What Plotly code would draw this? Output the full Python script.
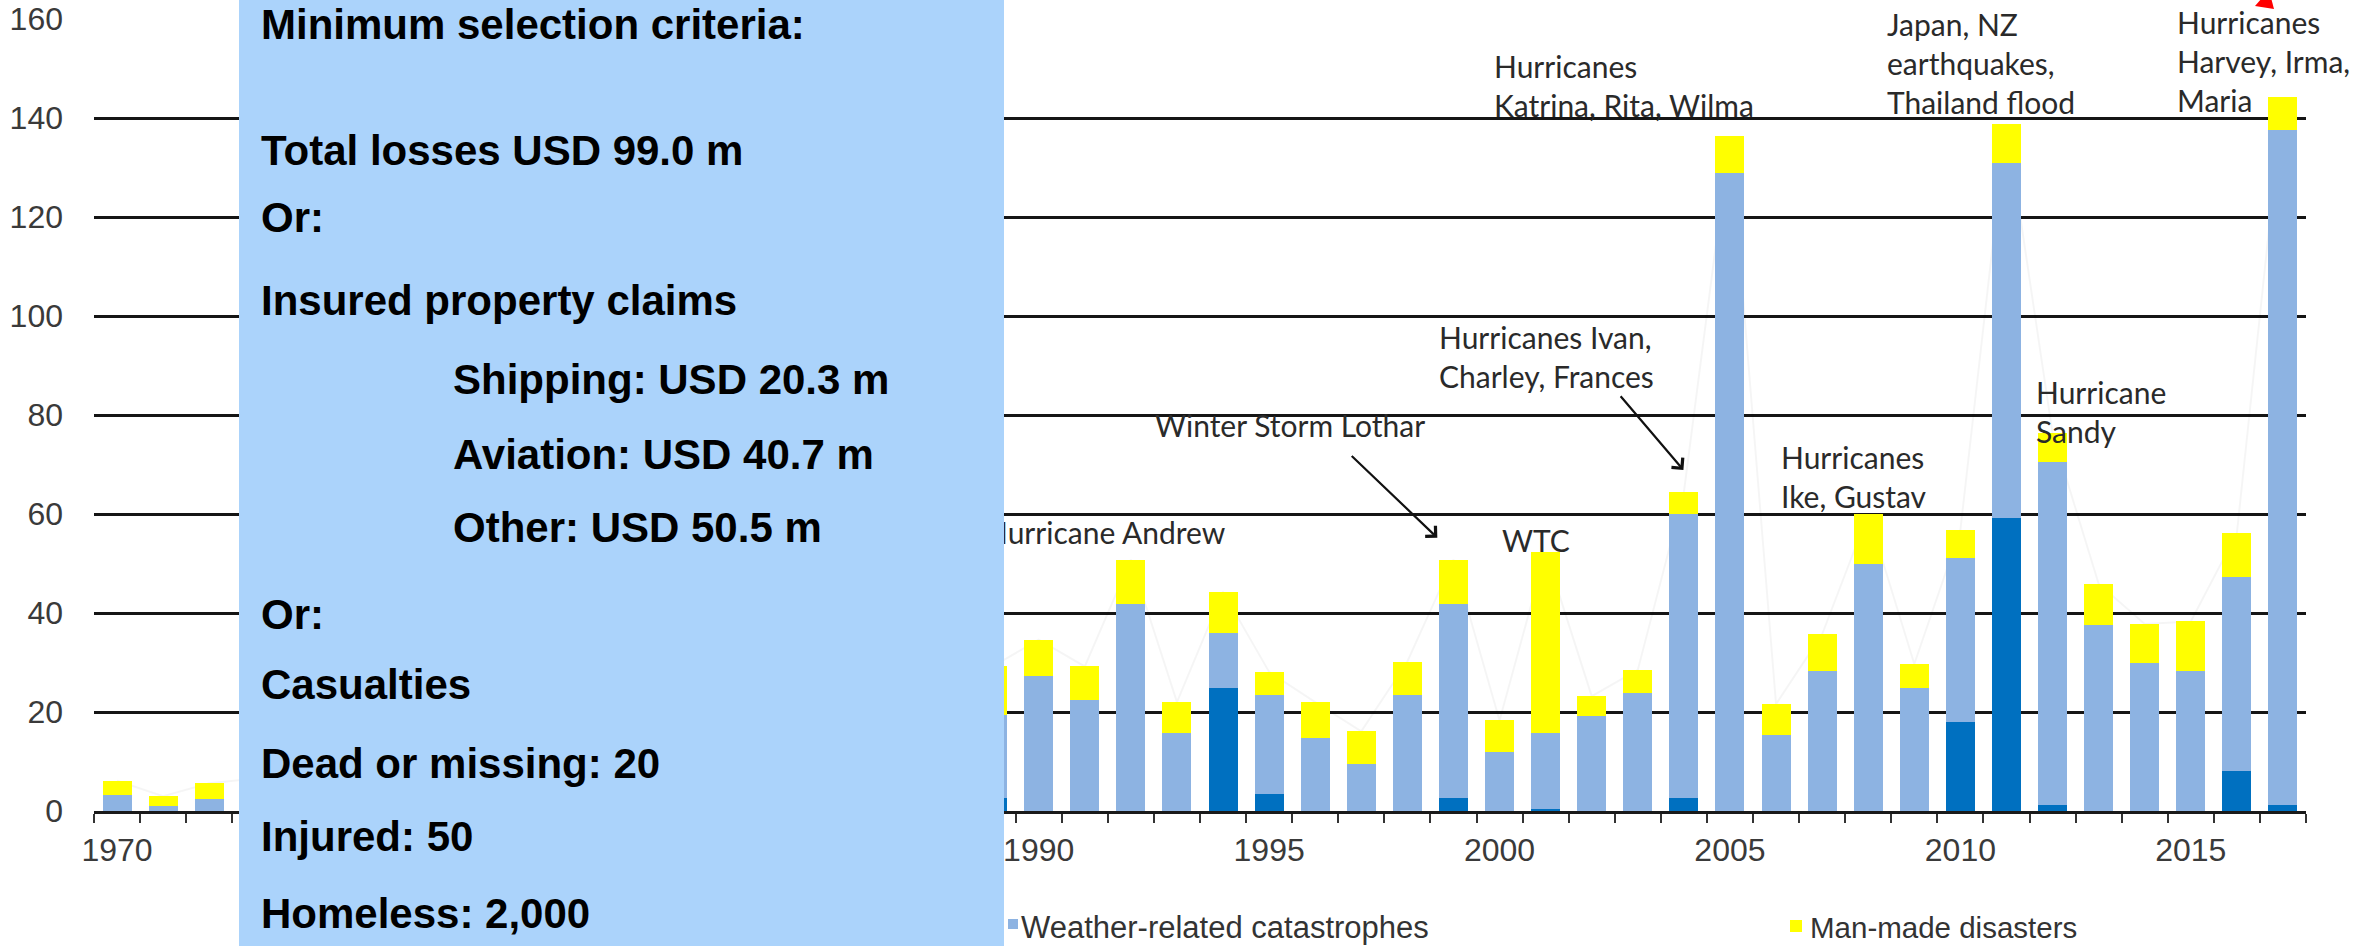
import plotly.graph_objects as go

# Insured catastrophe losses by year, USD bn
years = list(range(1970, 2018))
earthquake = [0.0, 0.0, 0.0, 0.0, 0.0, 0.0, 0.5, 0.2, 0.3, 0.0,
              0.8, 0.0, 0.0, 0.5, 0.0, 0.8, 0.2, 0.5, 0.3, 2.7,
              0.0, 0.0, 0.0, 0.0, 24.9, 3.4, 0.0, 0.0, 0.0, 2.7,
              0.0, 0.5, 0.0, 0.0, 2.7, 0.0, 0.0, 0.0, 0.0, 0.0,
              18.0, 59.1, 1.2, 0.0, 0.0, 0.0, 8.1, 1.2]
weather = [3.2, 1.1, 2.5, 4.0, 5.5, 4.0, 5.5, 3.0, 4.5, 7.0,
           3.5, 3.5, 6.0, 9.5, 6.0, 7.5, 4.5, 14.0, 6.5, 16.6,
           27.3, 22.4, 41.9, 15.7, 11.0, 20.0, 14.8, 9.4, 23.4, 39.2,
           12.0, 15.3, 19.1, 23.9, 57.2, 128.9, 15.4, 28.3, 50.0, 24.9,
           33.1, 71.9, 69.3, 37.5, 29.8, 28.3, 39.2, 136.3]
man_made = [2.9, 1.9, 3.1, 2.5, 2.0, 2.5, 2.0, 3.0, 2.5, 3.0,
            2.5, 3.0, 2.5, 3.0, 3.5, 3.0, 3.5, 4.0, 8.0, 9.9,
            7.3, 6.8, 8.9, 6.3, 8.4, 4.7, 7.2, 6.7, 6.8, 8.9,
            6.3, 36.5, 4.1, 4.6, 4.5, 7.4, 6.2, 7.4, 10.0, 4.8,
            5.7, 7.8, 5.8, 8.4, 8.0, 10.0, 8.8, 6.7]
totals = [round(a + b + c, 1) for a, b, c in zip(earthquake, weather, man_made)]

# year labels left uncovered by the criteria panel
label_years = [1970, 1990, 1995, 2000, 2005, 2010, 2015]
y_ticks = [0, 20, 40, 60, 80, 100, 120, 140, 160]

C_QUAKE = "#0070C0"
C_WEATHER = "#8DB3E2"
C_MANMADE = "#FFFF00"
C_PANEL = "#ABD3FB"

W, H = 2374, 946
ML, MR, MT, MB = 94, 68, 19, 135
PW, PH = W - ML - MR, H - MT - MB


def px(x):
    return (x - ML) / PW


def py(y):
    return (H - MB - y) / PH


fig = go.Figure()

# faint total line running behind the bars
fig.add_trace(go.Scatter(x=years, y=totals, mode="lines",
                         line=dict(color="rgba(0,0,0,0.04)", width=2),
                         hoverinfo="skip", showlegend=False))

for name, vals, col in [("Earthquake/tsunami", earthquake, C_QUAKE),
                        ("Weather-related catastrophes", weather, C_WEATHER),
                        ("Man-made disasters", man_made, C_MANMADE)]:
    fig.add_trace(go.Bar(x=years, y=vals, name=name, marker=dict(color=col, line=dict(width=0)),
                         width=0.63, xaxis="x2", yaxis="y2", showlegend=False))

ann_font = dict(family="Lato, Carlito, sans-serif", size=30, color="#2a2a2a")
annotations = []


def note(text, x, y, xanchor="left"):
    annotations.append(dict(text=text, x=x, y=y, xref="x", yref="y", xanchor=xanchor,
                            yanchor="middle", align="left", showarrow=False, font=ann_font))


def arrow(x, y, ax, ay):
    annotations.append(dict(text="", x=x, y=y, ax=ax, ay=ay, xref="x", yref="y",
                            axref="x", ayref="y", showarrow=True, arrowhead=4,
                            arrowsize=1.3, arrowwidth=2.2, arrowcolor="#111"))


note("Hurricane Andrew", 1994.11, 56.4, xanchor="right")
note("Winter Storm Lothar", 1995.46, 78.0, xanchor="center")
arrow(1998.65, 55.2, 1996.76, 72.0)
note("WTC", 2000.8, 54.8, xanchor="center")
note("Hurricanes Ivan,<br>Charley, Frances", 1998.65, 91.9)
arrow(2003.99, 68.9, 2002.6, 84.1)
note("Hurricanes<br>Katrina, Rita, Wilma", 1999.84, 146.6)
note("Hurricanes<br>Ike, Gustav", 2006.07, 67.6)
note("Japan, NZ<br>earthquakes,<br>Thailand flood", 2008.37, 151.2)
note("Hurricane<br>Sandy", 2011.6, 80.8)
note("Hurricanes<br>Harvey, Irma,<br>Maria", 2014.66, 151.6)

# criteria panel on the left
annotations.append(dict(text=" ", xref="paper", yref="paper", x=px(239), y=py(0),
                        xanchor="left", yanchor="top", width=765, height=946,
                        bgcolor=C_PANEL, borderpad=0, borderwidth=0, showarrow=False))

panel_font = dict(family="Liberation Sans, Arial, sans-serif", size=42, color="#000")
panel_lines = [
    ("<b>Minimum selection criteria:</b>", 259, 25),
    ("<b>Total losses USD 99.0 m</b>", 259, 150),
    ("<b>Or:</b>", 259, 217),
    ("<b>Insured property claims</b>", 259, 300),
    ("<b>Shipping: USD 20.3 m</b>", 451, 379),
    ("<b>Aviation: USD 40.7 m</b>", 451, 454),
    ("<b>Other: USD 50.5 m</b>", 451, 527),
    ("<b>Or:</b>", 259, 614),
    ("<b>Casualties</b>", 259, 684),
    ("<b>Dead or missing: 20</b>", 259, 763),
    ("<b>Injured: 50</b>", 259, 836),
    ("<b>Homeless: 2,000</b>", 259, 913),
]
for text, x0, yc in panel_lines:
    annotations.append(dict(text=text, xref="paper", yref="paper", x=px(x0), y=py(yc),
                            xanchor="left", yanchor="middle", showarrow=False, font=panel_font))

# legend entries
annotations.append(dict(text="Weather-related catastrophes", xref="paper", yref="paper",
                        x=px(1019), y=py(927), xanchor="left", yanchor="middle",
                        showarrow=False,
                        font=dict(family="Liberation Sans, Arial, sans-serif", size=31, color="#333")))
annotations.append(dict(text="Man-made disasters", xref="paper", yref="paper",
                        x=px(1808), y=py(927), xanchor="left", yanchor="middle",
                        showarrow=False,
                        font=dict(family="Liberation Sans, Arial, sans-serif", size=29.5, color="#333")))

shapes = [
    dict(type="rect", xref="paper", yref="paper", x0=px(1008), x1=px(1018), y0=py(929), y1=py(919),
         fillcolor=C_WEATHER, line=dict(width=0)),
    dict(type="rect", xref="paper", yref="paper", x0=px(1790), x1=px(1802), y0=py(932), y1=py(920),
         fillcolor=C_MANMADE, line=dict(width=0)),
    dict(type="path", xref="paper", yref="paper",
         path=f"M{px(2255)},{py(6)} L{px(2274)},{py(9)} L{px(2269)},{py(-10)} Z",
         fillcolor="#FF0000", line=dict(width=0)),
]

tick_font = dict(family="Liberation Sans, Arial, sans-serif", size=32, color="#3a3a3a")
fig.update_layout(
    width=W, height=H,
    margin=dict(l=ML, r=MR, t=MT, b=MB, autoexpand=False),
    paper_bgcolor="white", plot_bgcolor="white",
    barmode="stack", bargap=0,
    showlegend=False,
    annotations=annotations,
    shapes=shapes,
    xaxis=dict(range=[1969.5, 2017.5], tickmode="array", tickvals=label_years,
               ticktext=[str(v) for v in label_years], ticks="", showgrid=False,
               zeroline=False, showline=True, linecolor="#1a1a1a", linewidth=2.5,
               tickfont=tick_font, ticklabelstandoff=9, automargin=False,
               minor=dict(ticks="outside", tickmode="linear", tick0=1969.5, dtick=1,
                          ticklen=9, tickwidth=2, tickcolor="#333", showgrid=False)),
    yaxis=dict(range=[0, 160], tickmode="array", tickvals=y_ticks, ticks="",
               showgrid=True, gridcolor="#151515", gridwidth=2.5, zeroline=False,
               showline=False, tickfont=tick_font, ticklabelstandoff=30, automargin=False),
    xaxis2=dict(range=[1969.5, 2017.5], overlaying="x", visible=False),
    yaxis2=dict(range=[0, 160], overlaying="y", visible=False),
)

fig.write_html("out.html")
